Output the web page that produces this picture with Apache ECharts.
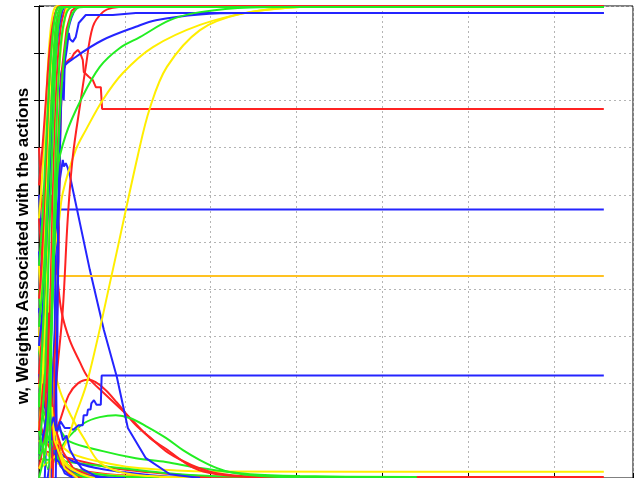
<!DOCTYPE html>
<html>
<head>
<meta charset="utf-8">
<script src="https://cdn.jsdelivr.net/npm/echarts@6/dist/echarts.min.js"></script>
<style>
  html, body { margin: 0; padding: 0; background: #fff; }
  #chart { width: 638px; height: 478px; }
</style>
</head>
<body>
<div id="chart"></div>
<script>
// Axis ranges (iterations on x, action weight on y)
const xMax = 692;
const xStep = 100;
const yStep = 0.1;
const yTitle = 'w, Weights Associated with the actions';

// ---- weights that settle at fixed intermediate values ----
const blueTopStairs = [[19.5,0],[20.5,0.12],[20,0.2],[21.5,0.3],[21,0.38],[22.5,0.46],[22,0.52],[23.5,0.6],[24.5,0.7],[25.5,0.78],[27,0.84],[28.8,0.8],[30,0.88],[32.3,0.907],[34.7,0.943],[36,0.93],[39.3,0.924],[42.8,0.934],[46.3,0.964],[54.5,0.981],[86,0.981],[112.8,0.985],[658,0.985]];
const blueSlowRise = [[18,0.05],[21.8,0.377],[24.2,0.80],[26.5,0.864],[42.8,0.892],[74.3,0.928],[112.8,0.956],[136.2,0.970],[187.5,0.982],[240,0.985],[658,0.985]];
const redStairs = [[16,0],[18.5,0.15],[18,0.25],[20,0.3],[21.8,0.377],[23,0.5],[24.2,0.695],[26,0.8],[27.7,0.864],[30,0.87],[31,0.88],[34.7,0.886],[38,0.89],[41,0.9],[45.2,0.907],[48,0.9],[51,0.886],[52.2,0.860],[58,0.85],[62.7,0.843],[64,0.843],[66.2,0.828],[72,0.828],[73.5,0.782],[658,0.782]];
const blueMid = [[14.8,0],[16,0.12],[15.5,0.2],[17,0.26],[18.3,0.314],[19,0.42],[20.7,0.569],[658,0.569]];
const orangeMid = [[13,0],[15,0.1],[17,0.2],[18.5,0.3],[20.5,0.428],[658,0.428]];
const blueLowStairs = [[10,0],[15,0.06],[20,0.09],[25,0.12],[30,0.106],[36,0.106],[40,0.102],[46,0.112],[51,0.112],[52,0.133],[56,0.133],[57,0.145],[60,0.145],[61,0.158],[63,0.158],[64,0.165],[66,0.165],[67,0.155],[72,0.155],[73,0.217],[658,0.217]];
const yellowLow = [[0,0.2],[6,0.14],[12,0.1],[25,0.07],[40,0.05],[70,0.035],[110,0.022],[160,0.016],[200,0.014],[658,0.013]];

// ---- slow weights that climb to one ----
const yellowRiseLate = [[0,0.02],[15,0.04],[30,0.07],[42,0.13],[56.8,0.208],[86,0.441],[115.2,0.684],[129.2,0.784],[149,0.871],[187.5,0.949],[234,0.983],[304,0.998],[363,1],[658,1]];
const yellowRiseMid = [[5,0.25],[12.5,0.377],[18.3,0.483],[23,0.54],[27.7,0.604],[42.8,0.695],[54.5,0.737],[74.3,0.801],[97.7,0.858],[132.7,0.913],[187.5,0.96],[246,0.987],[304,0.998],[360,1],[658,1]];
const redRiseMid = [[15,0.02],[20,0.2],[27.7,0.356],[33.5,0.55],[39.3,0.68],[48.7,0.801],[54.5,0.871],[62.7,0.956],[74.3,0.987],[86,0.996],[117.5,1],[658,1]];
const greenRiseMid = [[0,0.1],[10.2,0.02],[14.8,0.314],[21.8,0.653],[31.2,0.727],[48.7,0.801],[70.8,0.871],[94.2,0.911],[117.5,0.934],[152.5,0.970],[187.5,0.987],[246,0.997],[304,0.998],[658,0.998]];

// ---- transient weights that peak and die away ----
const bluePeak = [[6.7,0],[12.5,0.271],[18.3,0.483],[24.2,0.631],[27.7,0.674],[29,0.66],[31.2,0.667],[33.5,0.657],[35.8,0.642],[59.2,0.441],[75.5,0.314],[90.7,0.214],[103.5,0.106],[124.5,0.042],[152.5,0.008],[187.5,0]];
const redHump = [[12.5,0.07],[24,0.12],[34.7,0.176],[45,0.2],[56.8,0.208],[66,0.203],[77.8,0.186],[90.7,0.160],[112.8,0.112],[130,0.085],[147.8,0.057],[167.7,0.036],[187.5,0.02],[207.4,0.010],[246,0.003],[304,0]];
const redFall = [[14,0.6],[18,0.5],[21.8,0.419],[26.5,0.35],[35.8,0.292],[47.5,0.246],[56.8,0.214],[75.5,0.18],[104.7,0.13],[129.2,0.085],[147.8,0.062],[179.5,0.022],[207.4,0.008],[257.6,0.001]];
const greenHump = [[10.2,0.017],[24.2,0.059],[34.7,0.087],[53.3,0.117],[70.8,0.129],[89.5,0.133],[105.8,0.127],[124.5,0.110],[147.8,0.085],[167.7,0.059],[187.5,0.038],[207.4,0.021],[226,0.011],[257.6,0.004],[304,0.001]];
const greenFall = [[0,0.16],[12,0.12],[24.2,0.102],[34.7,0.078],[74.3,0.057],[112.8,0.042],[147.8,0.034],[187.5,0.021],[246,0.008],[304,0.004],[440,0.002]];
const yellowFall = [[0,0.4],[6,0.33],[12.5,0.271],[24.2,0.186],[36.9,0.133],[53.3,0.081],[70,0.034],[94.2,0.013],[129,0.004],[180,0]];

// ---- fast weights that jump to one at the start ----
const rise1 = [[0,0.30],[4,0.42],[8,0.60],[11,0.75],[14,0.88],[17,0.96],[21,0.995],[26,1],[658,1]];
const rise2 = [[0,0.15],[5,0.33],[9,0.52],[12,0.68],[15,0.82],[18,0.93],[22,0.985],[28,0.998],[658,0.998]];
const rise3 = [[0,0.38],[3,0.45],[7,0.62],[10,0.76],[13,0.88],[16,0.95],[20,0.99],[25,1],[658,1]];
const rise4 = [[0,0.10],[6,0.28],[10,0.47],[13,0.63],[16,0.79],[19,0.91],[23,0.98],[28,1],[658,1]];
const rise5 = [[0,0.05],[7,0.22],[11,0.45],[14,0.62],[17,0.78],[20,0.9],[24,0.975],[30,0.998],[658,0.998]];
const rise6 = [[0,0.22],[5,0.35],[9,0.55],[13,0.72],[16,0.85],[20,0.95],[25,0.99],[30,1],[658,1]];
const rise7 = [[0,0.45],[4,0.55],[8,0.7],[12,0.84],[15,0.92],[19,0.98],[24,0.998],[658,0.998]];
const rise8 = [[0,0.55],[3,0.62],[7,0.75],[10,0.86],[13,0.94],[17,0.99],[22,1],[658,1]];
const rise9 = [[0,0.02],[8,0.12],[12,0.3],[15,0.52],[18,0.72],[21,0.86],[25,0.95],[30,0.99],[36,1],[658,1]];
const rise10 = [[0,0],[9,0.08],[13,0.25],[16,0.45],[19,0.66],[22,0.82],[26,0.93],[32,0.985],[40,0.998],[658,0.998]];
const rise11 = [[0,0.28],[6,0.40],[10,0.55],[14,0.7],[17,0.82],[21,0.92],[26,0.98],[32,1],[658,1]];
const rise12 = [[0,0.02],[8,0.06],[12,0.2],[15,0.4],[18,0.6],[21,0.78],[25,0.9],[30,0.97],[36,1],[658,1]];
const rise13 = [[0,0.62],[4,0.7],[8,0.8],[12,0.9],[16,0.96],[21,0.995],[26,1],[658,1]];
const rise14 = [[0,0.32],[6,0.45],[10,0.6],[14,0.76],[18,0.88],[22,0.96],[27,0.995],[33,0.998],[658,0.998]];
const rise15 = [[0,0.05],[10,0.15],[16,0.4],[20,0.6],[24,0.75],[28,0.86],[33,0.94],[40,0.985],[48,1],[658,1]];
const rise16 = [[0,0.1],[5,0.2],[8,0.18],[11,0.35],[14,0.33],[17,0.5],[20,0.62],[23,0.75],[27,0.87],[32,0.95],[38,0.99],[45,1],[658,1]];
const rise17 = [[0,0.04],[9,0.1],[14,0.3],[18,0.5],[22,0.68],[26,0.82],[31,0.92],[37,0.975],[44,0.995],[52,0.998],[658,0.998]];

// ---- fast weights that collapse to zero ----
const fall1 = [[0,0.55],[5,0.42],[10,0.28],[15,0.16],[20,0.09],[28,0.04],[40,0.015],[60,0.004],[90,0]];
const fall2 = [[0,0.48],[4,0.36],[8,0.25],[12,0.16],[17,0.09],[24,0.045],[35,0.018],[50,0.006],[70,0]];
const fall3 = [[0,0.40],[4,0.30],[9,0.2],[14,0.12],[20,0.07],[30,0.035],[45,0.012],[70,0.003],[100,0]];
const fall4 = [[0,0.35],[5,0.25],[10,0.17],[15,0.11],[22,0.06],[32,0.025],[50,0.008],[75,0]];
const fall5 = [[0,0.30],[2,0.33],[4,0.26],[6,0.28],[8,0.22],[10,0.24],[12,0.2],[14,0.17],[16,0.15],[20,0.1],[28,0.055],[40,0.02],[60,0.005],[80,0]];
const fall6 = [[0,0.22],[5,0.17],[10,0.12],[16,0.07],[25,0.035],[40,0.012],[70,0.002],[100,0]];
const fall7 = [[0,0.18],[6,0.12],[12,0.08],[20,0.05],[35,0.025],[60,0.01],[100,0.003],[140,0]];
const fall8 = [[0,0.12],[6,0.09],[12,0.065],[22,0.04],[40,0.02],[80,0.008],[150,0.002],[200,0]];
const fall9 = [[0,0.08],[8,0.055],[18,0.035],[35,0.02],[70,0.008],[120,0.003],[170,0]];
const fall10 = [[0,0.60],[3,0.52],[4,0.55],[6,0.42],[8,0.38],[9,0.3],[12,0.2],[15,0.12],[19,0.06],[25,0.025],[35,0.008],[50,0]];
const fall11 = [[0,0.70],[3,0.6],[6,0.48],[7,0.5],[9,0.35],[12,0.24],[15,0.15],[19,0.08],[25,0.035],[35,0.01],[50,0]];
const fall12 = [[0,0.27],[4,0.22],[8,0.16],[13,0.1],[18,0.06],[26,0.03],[40,0.01],[60,0]];
const fall13 = [[0,0.1],[20,0.06],[40,0.035],[70,0.02],[100,0.012],[130,0.006],[160,0.002],[190,0]];
const fall14 = [[0,0.06],[20,0.05],[50,0.035],[90,0.02],[130,0.012],[170,0.006],[220,0.002],[658,0.002]];
const fall15 = [[0,0.04],[30,0.035],[60,0.028],[100,0.02],[150,0.01],[200,0.004],[260,0.002],[440,0.002]];
const fall16 = [[0,0.45],[3,0.36],[6,0.28],[10,0.2],[15,0.13],[22,0.07],[30,0.035],[45,0.012],[65,0]];
const fall17 = [[0,0.36],[2,0.3],[3,0.34],[5,0.25],[6,0.28],[8,0.18],[9,0.21],[11,0.13],[13,0.15],[15,0.08],[18,0.09],[20,0.04],[25,0.03],[30,0.01],[40,0]];
const fall18 = [[0,0.2],[2,0.24],[4,0.18],[6,0.22],[8,0.15],[10,0.17],[13,0.1],[15,0.12],[18,0.06],[22,0.07],[26,0.03],[32,0.02],[45,0]];
const fall19 = [[0,0.28],[3,0.24],[5,0.27],[7,0.2],[10,0.22],[12,0.14],[15,0.15],[18,0.08],[24,0.05],[30,0.02],[45,0]];
const fall20 = [[10,0.14],[14,0.11],[17,0.13],[20,0.1],[24,0.11],[28,0.08],[32,0.09],[36,0.06],[42,0.04],[50,0.02],[65,0.005],[80,0]];

const RED = '#ff2222';
const GREEN = '#22ee22';
const BLUE = '#2424ff';
const YELLOW = '#ffee00';
const ORANGE = '#ffc222';

function curve(data, color, smooth) {
  return {
    type: 'line',
    data: data,
    symbol: 'none',
    smooth: smooth ? 0.35 : false,
    silent: true,
    animation: false,
    lineStyle: { color: color, width: 2 }
  };
}

const series = [
  // long-lived lines first
  curve(yellowLow, YELLOW, true),
  curve(fall14, RED, true),
  curve(fall15, GREEN, true),
  curve(fall13, BLUE, true),
  curve(fall8, RED, true),
  curve(fall9, YELLOW, true),
  curve(fall7, GREEN, true),
  curve(greenFall, GREEN, true),
  curve(redFall, RED, true),
  curve(redHump, RED, true),
  curve(greenHump, GREEN, true),
  curve(yellowFall, YELLOW, true),
  curve(blueLowStairs, BLUE, false),
  curve(bluePeak, BLUE, false),
  curve(orangeMid, ORANGE, false),
  curve(blueMid, BLUE, false),
  curve(redStairs, RED, false),
  curve(yellowRiseLate, YELLOW, true),
  curve(yellowRiseMid, YELLOW, true),
  curve(redRiseMid, RED, true),
  curve(blueSlowRise, BLUE, true),
  curve(blueTopStairs, BLUE, false),
  // crowded start
  curve(fall1, RED, true),
  curve(fall2, BLUE, true),
  curve(fall3, GREEN, true),
  curve(fall4, YELLOW, true),
  curve(fall5, RED, false),
  curve(fall6, BLUE, true),
  curve(fall10, BLUE, false),
  curve(fall11, RED, false),
  curve(fall12, GREEN, true),
  curve(fall16, YELLOW, true),
  curve(fall17, BLUE, false),
  curve(fall18, RED, false),
  curve(fall19, YELLOW, false),
  curve(fall20, BLUE, false),
  curve(rise1, YELLOW, true),
  curve(rise3, RED, true),
  curve(rise4, YELLOW, true),
  curve(rise6, RED, true),
  curve(rise8, YELLOW, true),
  curve(rise9, RED, true),
  curve(rise11, BLUE, true),
  curve(rise12, YELLOW, true),
  curve(rise13, RED, true),
  curve(rise15, BLUE, true),
  curve(rise16, RED, false),
  curve(rise2, GREEN, true),
  curve(rise5, GREEN, true),
  curve(rise7, GREEN, true),
  curve(rise10, GREEN, true),
  curve(rise14, GREEN, true),
  curve(rise17, GREEN, true),
  curve(greenRiseMid, GREEN, true)
];

const gridLine = { show: true, lineStyle: { color: '#b4b4b4', width: 1, type: [2, 3] } };
const tick = { show: true, inside: true, length: 5, lineStyle: { color: '#000', width: 1 } };

const chart = echarts.init(document.getElementById('chart'), null, { renderer: 'canvas' });
chart.setOption({
  animation: false,
  backgroundColor: '#fff',
  grid: { left: 39, right: 5, top: 6, bottom: 0, show: true, borderColor: '#000', borderWidth: 1, backgroundColor: 'transparent' },
  xAxis: [
    { type: 'value', min: 0, max: xMax, interval: xStep, position: 'bottom',
      axisLine: { show: true, lineStyle: { color: '#000' } }, axisTick: tick,
      axisLabel: { show: false }, splitLine: gridLine },
    { type: 'value', min: 0, max: xMax, interval: xStep, position: 'top',
      axisLine: { show: true, lineStyle: { color: '#000' } }, axisTick: tick,
      axisLabel: { show: false }, splitLine: { show: false } }
  ],
  yAxis: [
    { type: 'value', min: 0, max: 1, interval: yStep, position: 'left',
      name: yTitle, nameLocation: 'middle', nameGap: 7, nameRotate: 90,
      nameTextStyle: { fontFamily: 'Liberation Sans, Arial, sans-serif', fontWeight: 'bold', fontSize: 17, color: '#000', padding: [0, 8, 0, 0] },
      axisLine: { show: true, lineStyle: { color: '#000', width: 1 } }, axisTick: tick,
      axisLabel: { show: false }, splitLine: gridLine },
    { type: 'value', min: 0, max: 1, interval: yStep, position: 'right',
      axisLine: { show: true, lineStyle: { color: '#000' } }, axisTick: tick,
      axisLabel: { show: false }, splitLine: { show: false } }
  ],
  series: series
});
</script>
</body>
</html>
